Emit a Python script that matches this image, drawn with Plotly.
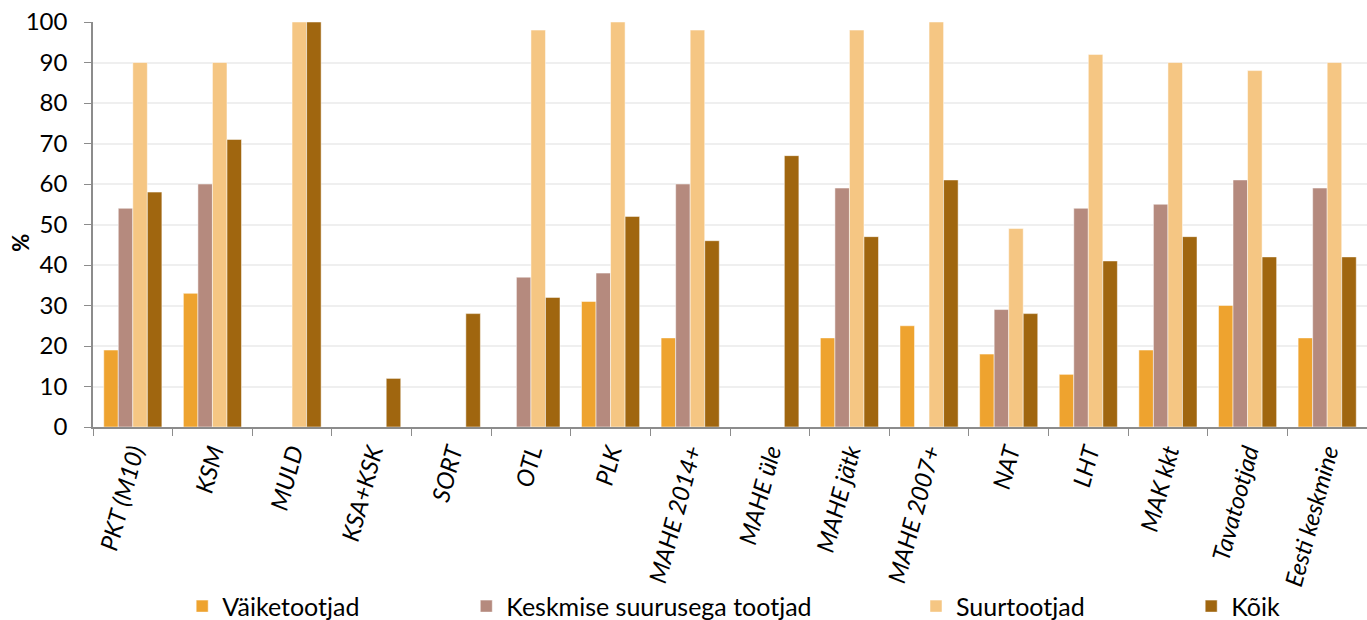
import plotly.graph_objects as go

categories = ["PKT (M10)", "KSM", "MULD", "KSA+KSK", "SORT", "OTL", "PLK", "MAHE 2014+",
              "MAHE üle", "MAHE jätk", "MAHE 2007+", "NAT", "LHT", "MAK kkt",
              "Tavatootjad", "Eesti keskmine"]
vaike = [19, 33, None, None, None, None, 31, 22, None, 22, 25, 18, 13, 19, 30, 22]
keskmise = [54, 60, None, None, None, 37, 38, 60, None, 59, None, 29, 54, 55, 61, 59]
suur = [90, 90, 100, None, None, 98, 100, 98, None, 98, 100, 49, 92, 90, 88, 90]
koik = [58, 71, 100, 12, 28, 32, 52, 46, 67, 47, 61, 28, 41, 47, 42, 42]

series = [
    ("Väiketootjad", vaike, "#EEA32F", "legend", 0.070),
    ("Keskmise suurusega tootjad", keskmise, "#B58A7E", "legend2", 0.293),
    ("Suurtootjad", suur, "#F5C683", "legend3", 0.646),
    ("Kõik", koik, "#A0660F", "legend4", 0.862),
]

fig = go.Figure()
for name, vals, color, lg, _ in series:
    fig.add_trace(go.Bar(x=categories, y=vals, name=name, marker_color=color,
                         marker_line=dict(color="white", width=0.5), legend=lg,
                         showlegend=True))

font = "Lato, 'Open Sans', sans-serif"
layout = dict(
    width=1367, height=620,
    margin=dict(l=93, r=0, t=22, b=193),
    plot_bgcolor="white", paper_bgcolor="white",
    showlegend=True,
    font=dict(family=font, size=24, color="#000000"),
    barmode="group", bargap=0.27, bargroupgap=0,
    xaxis=dict(tickangle=-75, tickfont=dict(size=24, style="italic"),
               tickson="boundaries", ticks="outside", ticklen=7, tickcolor="#8c8c8c",
               showline=True, linecolor="#8c8c8c", linewidth=1.5, showgrid=False,
               automargin=False),
    yaxis=dict(range=[0, 100], dtick=10, tickfont=dict(size=24),
               ticks="outside", ticklen=7, tickcolor="#8c8c8c", ticklabelstandoff=12,
               ticklabeloverflow="allow", automargin=False,
               showline=True, linecolor="#8c8c8c", linewidth=1.5,
               gridcolor="#efefef", gridwidth=2),
    annotations=[dict(text="<b>%</b>", textangle=-90, xref="paper", yref="paper",
                      x=-0.069, y=0.454, showarrow=False, font=dict(size=22))],
)
for name, vals, color, lg, xp in series:
    layout[lg] = dict(orientation="h", x=xp, xanchor="left",
                      y=0.022, yref="container", yanchor="middle",
                      font=dict(size=25), bgcolor="rgba(0,0,0,0)")
fig.update_layout(**layout)
fig.write_html("out.html", config={"displayModeBar": False},
               post_script="document.body.style.margin='0';")
